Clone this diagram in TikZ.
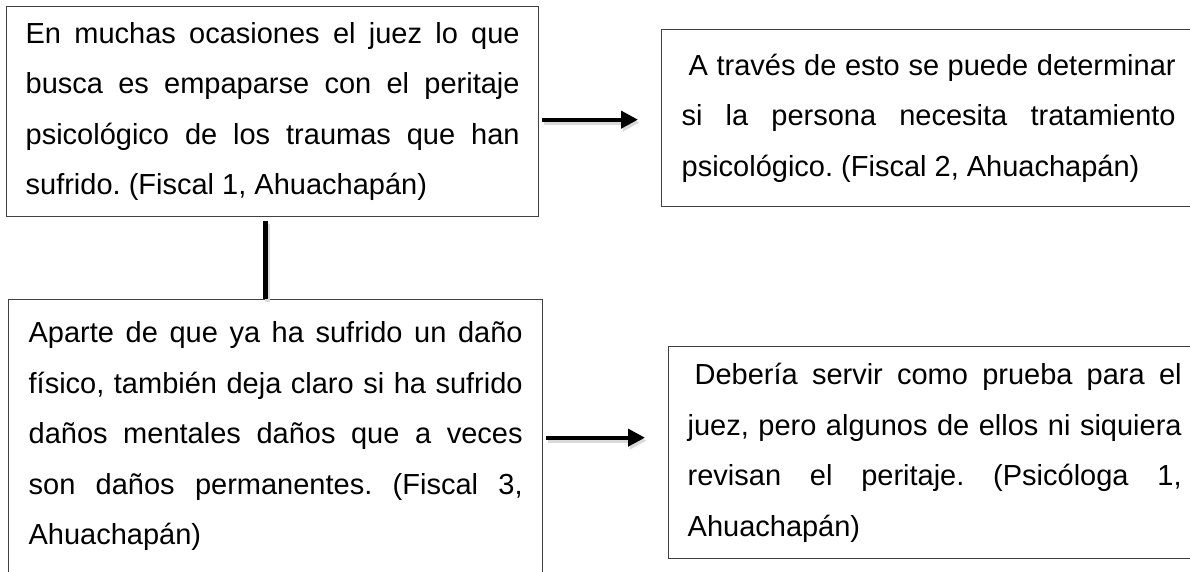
\documentclass[tikz,border=0pt]{standalone}
\usepackage{fontspec}
\setmainfont{Liberation Sans}
\usetikzlibrary{arrows.meta,positioning}
\hyphenpenalty=10000
\exhyphenpenalty=10000
\frenchspacing

\begin{document}
\begin{tikzpicture}[x=1pt,y=-1pt,
  caja/.style={draw=black!75,line width=1.3pt,anchor=north west,
    align=justify,text width=494pt,inner xsep=19pt,inner ysep=10pt,
    font=\fontsize{29}{50.5}\selectfont},
  flecha/.style={line width=4pt,-{Triangle[length=17pt,width=17pt]},
    preaction={draw=black!15,line width=5pt,transform canvas={shift={(1.5pt,-3pt)}}}},
  linea/.style={line width=4.5pt,
    preaction={draw=black!15,line width=5pt,transform canvas={shift={(1.5pt,-3pt)}}}}]
  % Ventana
  \useasboundingbox (0,0) rectangle (1190,571);
  \clip (0,0) rectangle (1190,571);

  % Cajas de la izquierda
  \node[caja,minimum width=532pt,minimum height=210pt] (fiscal1) at (6,6)
    {En muchas ocasiones el juez lo que\linebreak busca es empaparse con el peritaje\linebreak psicológico de los traumas que han\linebreak sufrido. (Fiscal 1, Ahuachapán)};
  \node[caja,minimum width=534pt,text height=33pt,text depth=260pt] (fiscal3) at (8,299)
    {Aparte de que ya ha sufrido un daño\linebreak físico, también deja claro si ha sufrido\linebreak daños mentales daños que a veces\linebreak son daños permanentes. (Fiscal 3,\linebreak Ahuachapán)};

  % Cajas de la derecha
  \node[caja,minimum width=534pt,minimum height=177pt] (fiscal2) at (661,29)
    {\hspace*{7pt}A través de esto se puede determinar\linebreak si la persona necesita tratamiento\linebreak psicológico. (Fiscal 2, Ahuachapán)};
  \node[caja,minimum width=532pt,minimum height=212pt] (psico1) at (668,346)
    {\hspace*{7pt}Debería servir como prueba para el\linebreak juez, pero algunos de ellos ni siquiera\linebreak revisan el peritaje. (Psicóloga 1,\linebreak Ahuachapán)};

  % Conectores
  \coordinate (a1) at ([yshift=-8pt]fiscal1.east);
  \coordinate (a2) at (fiscal2.west |- a1);
  \draw[flecha] ([xshift=3pt]a1) -- ([xshift=-23pt]a2);

  \coordinate (b2) at ([yshift=15pt]psico1.west);
  \coordinate (b1) at (fiscal3.east |- b2);
  \draw[flecha] ([xshift=3pt]b1) -- ([xshift=-23pt]b2);

  \coordinate (c1) at ([xshift=-7pt,yshift=-4pt]fiscal1.south);
  \coordinate (c2) at (c1 |- fiscal3.north);
  \draw[linea] (c1) -- (c2);
\end{tikzpicture}
\end{document}
